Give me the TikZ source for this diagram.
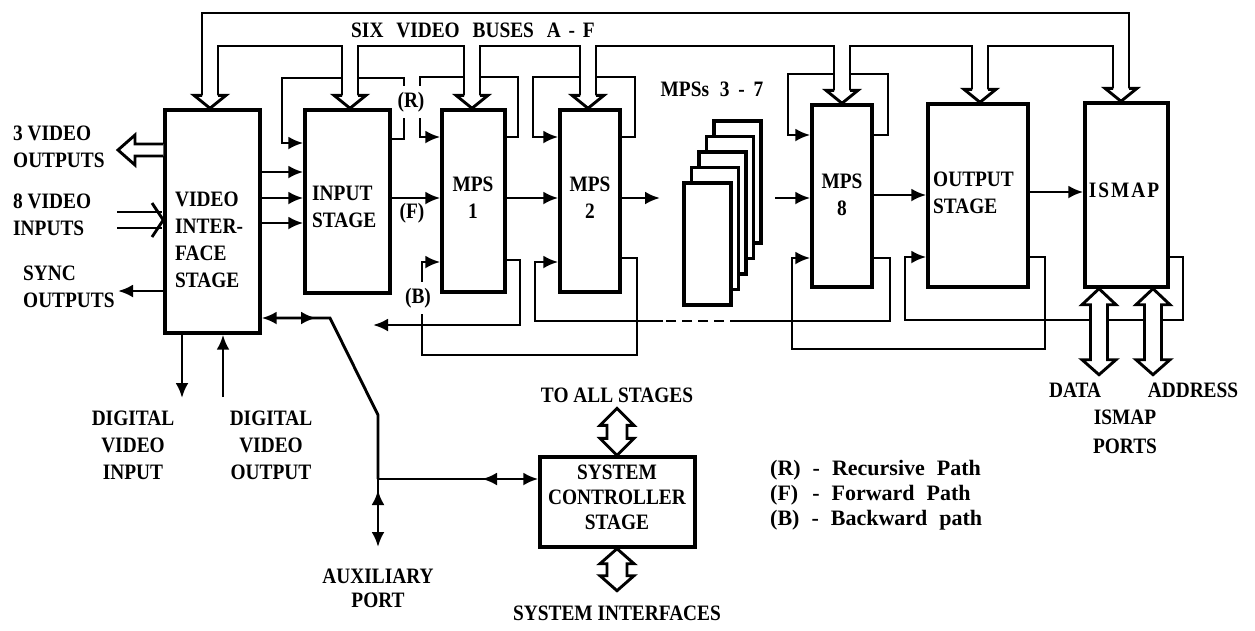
\documentclass[tikz,border=0pt]{standalone}
\usepackage{fontspec}
\newfontfamily\dfont{Liberation Serif}[FakeStretch=0.88]
\newfontfamily\lfont{Liberation Serif}
\usetikzlibrary{arrows.meta,calc}
\begin{document}
\begin{tikzpicture}[x=1pt,y=-1pt,
  box/.style={draw,line width=3.4pt,inner sep=0pt,fill=white},
  ln/.style={line width=2.9pt},
  arr/.style={line width=2.9pt,-{Latex[length=15pt,width=13pt]}},
  txt/.style={font=\dfont\bfseries\fontsize{22}{27}\selectfont,inner sep=0pt},
  leg/.style={font=\lfont\bfseries\fontsize{22}{25}\selectfont,inner sep=0pt},
  hollow/.style={line width=2.9pt,fill=white,line join=miter},
  gap/.style={fill=white,inner xsep=1pt,inner ysep=6pt},
]
\useasboundingbox (0,0) rectangle (1255,630);

% ---- blocks
\node[box,minimum width=95pt,minimum height=223pt] (vis) at (212.5,221.5) {};
\node[box,minimum width=85pt,minimum height=183pt] (inp) at (347.5,201.5) {};
\node[box,minimum width=63pt,minimum height=182pt] (mps1) at (473.5,201) {};
\node[box,minimum width=60pt,minimum height=182pt] (mps2) at (590,201) {};
\foreach \k in {4,3,2,1}{
  \node[box,minimum width=47pt,minimum height=122pt] (stk\k) at (707.5+7.5*\k,244-15.5*\k) {};
}
\node[box,minimum width=47pt,minimum height=122pt] (stk0) at (707.5,244) {};
\node[box,minimum width=60pt,minimum height=182pt] (mps8) at (842,196) {};
\node[box,minimum width=100pt,minimum height=183pt] (outs) at (978,195.5) {};
\node[box,minimum width=83pt,minimum height=184pt] (ismap) at (1126.5,195) {};
\node[box,minimum width=155pt,minimum height=90pt] (ctrl) at (617.5,502) {};

% ---- block texts
\node[txt,align=left,anchor=west] (vist) at (175,240) {VIDEO\\INTER-\\FACE\\STAGE};
\node[txt,align=left,anchor=west] (inpt) at (312,206.5) {INPUT\\STAGE};
\node[txt,align=center] (mps1t) at (473,197.5) {MPS\\1};
\node[txt,align=center] (mps2t) at (590,197.5) {MPS\\2};
\node[txt,align=center] (mps8t) at (842,195) {MPS\\8};
\node[txt,align=left,anchor=west] (outst) at (933,192.5) {OUTPUT\\STAGE};
\node[txt] (ismapt) at (1124,190) {I\hspace{2pt}S\hspace{2pt}M\hspace{2pt}A\hspace{2pt}P};
\node[txt,align=center,font=\dfont\bfseries\fontsize{22}{25}\selectfont] (ctrlt) at (617,497) {SYSTEM\\CONTROLLER\\STAGE};

% ---- recursive loops (R)
\draw[arr] (inp.east |- 0,139) -- (404,139) -- (404,78) -- (282,78) -- (282,143) -- (inp.west |- 0,143);
\draw[arr] (mps1.east |- 0,137) -- (518,137) -- (518,77) -- (420,77) -- (420,137) -- (mps1.west |- 0,137);
\draw[arr] (mps2.east |- 0,137) -- (635,137) -- (635,77) -- (533,77) -- (533,137) -- (mps2.west |- 0,137);
\draw[arr] (mps8.east |- 0,135) -- (888,135) -- (888,74) -- (788,74) -- (788,135) -- (mps8.west |- 0,135);
\node[txt,gap] (rlab) at (411,102) {(R)};

% ---- six video buses
\foreach \cx/\n in {210/vis,350/inp,472/mps1,588/mps2,842/mps8,980/outs,1121/ismap}{
  \path (\cx,0 |- \n.north) coordinate (t);
  \fill[white] ($(t)+(-8,-13)$) rectangle (\cx+8,46);
}
\draw[ln] (202,97) -- (202,13) -- (1129,13) -- (1129,90);
\draw[ln] (218,97) -- (218,46) -- (342,46) -- (342,97);
\draw[ln] (358,97) -- (358,46) -- (464,46) -- (464,97);
\draw[ln] (480,97) -- (480,46) -- (580,46) -- (580,97);
\draw[ln] (596,97) -- (596,46) -- (834,46) -- (834,92);
\draw[ln] (850,92) -- (850,46) -- (972,46) -- (972,91);
\draw[ln] (988,91) -- (988,46) -- (1113,46) -- (1113,90);
\foreach \cx/\n in {210/vis,350/inp,472/mps1,588/mps2,842/mps8,980/outs,1121/ismap}{
  \path (\cx,0 |- \n.north) coordinate (t);
  \filldraw[hollow] ($(t)+(-8,-13)$) -- ($(t)+(-16,-13)$) -- (t) -- ($(t)+(16,-13)$) -- ($(t)+(8,-13)$);
}
\node[txt] (buslab) at (473,30) {SIX\hspace{8pt} VIDEO\hspace{8pt} BUSES\hspace{8pt} A\hspace{3pt} -\hspace{3pt} F};
\node[txt] (stklab) at (712,89) {MPSs\hspace{6pt} 3\hspace{4pt} -\hspace{4pt} 7};

% ---- forward path (F)
\foreach \y in {172,198,223}{
  \draw[arr] (vis.east |- 0,\y) -- (inp.west |- 0,\y);
}
\draw[arr] (inp.east |- 0,198) -- (mps1.west |- 0,198);
\draw[arr] (mps1.east |- 0,198) -- (mps2.west |- 0,198);
\coordinate (fwdout) at (660,198);
\draw[arr] (mps2.east |- fwdout) -- (fwdout);
\coordinate (fwdin) at (775,198);
\draw[arr] (fwdin) -- (mps8.west |- fwdin);
\draw[arr] (mps8.east |- 0,195) -- (outs.west |- 0,195);
\draw[arr] (outs.east |- 0,192) -- (ismap.west |- 0,192);
\node[txt] (flab) at (412,213) {(F)};

% ---- backward path (B)
\coordinate (bk1) at (373,325);
\draw[arr] (mps1.east |- 0,260) -- (520,260) -- (520,325) -- (bk1);
\draw[arr] (mps2.east |- 0,258) -- (637,258) -- (637,355) -- (422,355) -- (422,262) -- (mps1.west |- 0,262);
\node[txt,gap] (blab) at (418,298) {(B)};
\draw[ln] (mps8.east |- 0,258) -- (890,258) -- (890,321) -- (740,321);
\draw[ln,dash pattern=on 10pt off 6pt] (740,321) -- (663,321);
\draw[arr] (663,321) -- (535,321) -- (535,262) -- (mps2.west |- 0,262);
\draw[arr] (outs.east |- 0,257) -- (1045,257) -- (1045,349) -- (792,349) -- (792,258) -- (mps8.west |- 0,258);
\draw[arr] (ismap.east |- 0,257) -- (1183,257) -- (1183,320) -- (905,320) -- (905,257) -- (outs.west |- 0,257);

% ---- ISMAP ports
\foreach \cx in {1099,1153}{
  \path (\cx,0 |- ismap.south) coordinate (t);
  \filldraw[hollow] (t) -- ($(t)+(17,16)$) -- ($(t)+(8.5,16)$) -- ($(t)+(8.5,71)$) -- ($(t)+(17,71)$) -- ($(t)+(0,86)$)
     -- ($(t)+(-17,71)$) -- ($(t)+(-8.5,71)$) -- ($(t)+(-8.5,16)$) -- ($(t)+(-17,16)$) -- cycle;
}
\node[txt] (datalab) at (1075,390) {DATA};
\node[txt] (addrlab) at (1193,390) {ADDRESS};
\node[txt,align=center,font=\dfont\bfseries\fontsize{22}{29}\selectfont] (portlab) at (1125,432) {ISMAP\\PORTS};

% ---- left side I/O
\path (vis.west |- 0,150) coordinate (vo);
\filldraw[hollow] ($(vo)+(0,-6)$) -- (135,144) -- (135,135) -- (118,150) -- (135,165) -- (135,156) -- ($(vo)+(0,6)$);
\node[txt,align=left,anchor=west] (vol) at (13,147) {3 VIDEO\\OUTPUTS};
\draw[ln] (117,212) -- (162,212);
\draw[ln] (117,228) -- (162,228);
\draw[ln,line join=miter] (152,203) -- (vis.west |- 0,220) -- (152,237);
\node[txt,align=left,anchor=west] (vil) at (13,215) {8 VIDEO\\INPUTS};
\coordinate (syncend) at (118,291);
\draw[arr] (vis.west |- syncend) -- (syncend);
\node[txt,align=left,anchor=west] (syl) at (23,287) {SYNC\\OUTPUTS};

% ---- bottom of video interface
\coordinate (dvi) at (182,398);
\draw[arr] (dvi |- vis.south) -- (dvi);
\coordinate (dvo) at (223,397);
\draw[arr] (dvo) -- (dvo |- vis.south);
\node[txt,align=center] (dvil) at (133,445) {DIGITAL\\VIDEO\\INPUT};
\node[txt,align=center] (dvol) at (271,445) {DIGITAL\\VIDEO\\OUTPUT};

% ---- auxiliary / controller link
\coordinate (junc) at (378,479);
\coordinate (auxend) at (378,547);
\draw[line width=2.9pt,{Latex[length=15pt,width=13pt]}-] (vis.east |- 0,318) -- (330,318) -- (378,415) -- (junc);
\draw[arr] (285,318) -- (316,318);
\draw[arr] (junc) -- (ctrl.west |- junc);
\draw[arr] (505,479) -- (482,479);
\draw[arr] (junc) -- (auxend);
\draw[arr] (378,512) -- (378,490);
\node[txt,align=center,font=\dfont\bfseries\fontsize{22}{24}\selectfont] (auxl) at (378,588) {AUXILIARY\\PORT};

% ---- controller double arrows
\path (ctrl.north -| 617,0) coordinate (ct);
\filldraw[hollow] ($(ct)+(0,-47)$) -- ($(ct)+(17,-30)$) -- ($(ct)+(10,-30)$) -- ($(ct)+(10,-17)$) -- ($(ct)+(17,-17)$) -- (ct)
   -- ($(ct)+(-17,-17)$) -- ($(ct)+(-10,-17)$) -- ($(ct)+(-10,-30)$) -- ($(ct)+(-17,-30)$) -- cycle;
\path (ctrl.south -| 617,0) coordinate (cb);
\filldraw[hollow] (cb) -- ($(cb)+(17,15)$) -- ($(cb)+(10,15)$) -- ($(cb)+(10,27)$) -- ($(cb)+(17,27)$) -- ($(cb)+(0,42)$)
   -- ($(cb)+(-17,27)$) -- ($(cb)+(-10,27)$) -- ($(cb)+(-10,15)$) -- ($(cb)+(-17,15)$) -- cycle;
\node[txt] (tolab) at (617,395) {TO ALL STAGES};
\node[txt] (silab) at (617,613) {SYSTEM INTERFACES};

% ---- legend
\node[leg,anchor=west] (legr) at (770,470) {(R)\hspace{12pt}-\hspace{12pt}Recursive\hspace{12pt}Path};
\node[leg,anchor=west] (legf) at (770,495) {(F)\hspace{14pt}-\hspace{12pt}Forward\hspace{12pt}Path};
\node[leg,anchor=west] (legb) at (770,520) {(B)\hspace{12pt}-\hspace{12pt}Backward\hspace{12pt}path};
\end{tikzpicture}
\end{document}
